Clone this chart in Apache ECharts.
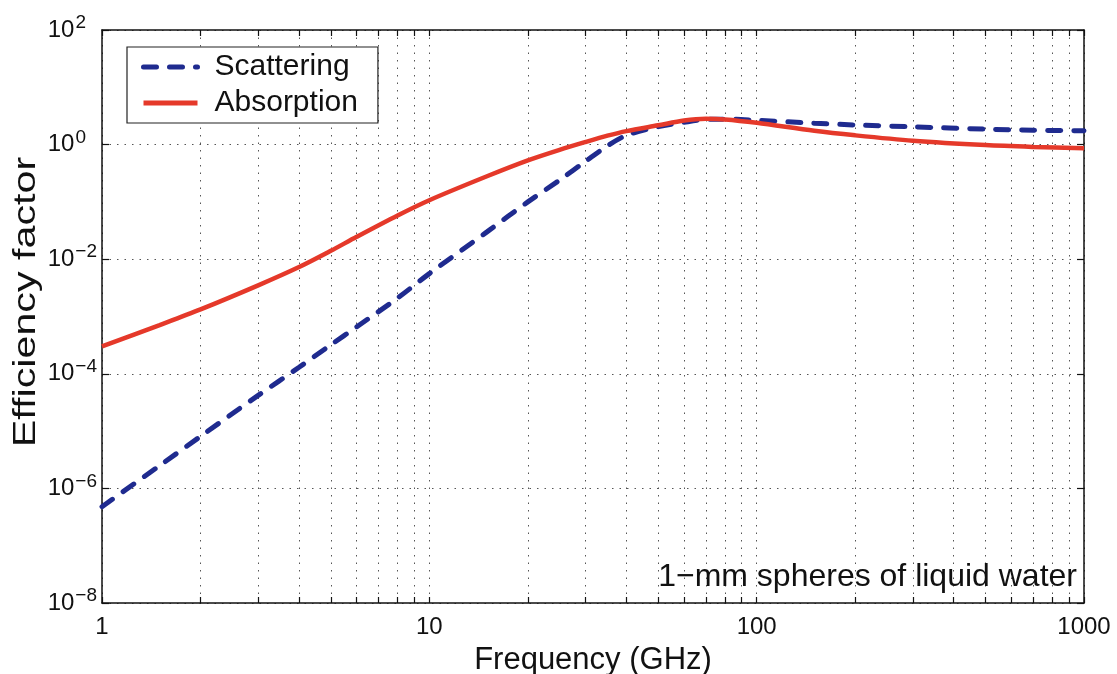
<!DOCTYPE html>
<html>
<head>
<meta charset="utf-8">
<script src="https://cdn.jsdelivr.net/npm/echarts@6/dist/echarts.min.js"></script>
<style>
html,body{margin:0;padding:0;background:#fff;}
#chart{width:1117px;height:674px;}
</style>
</head>
<body>
<div id="chart"></div>
<script>
// Frequency samples (GHz)
const frequencies = [1, 1.5, 2, 3, 4, 5, 6, 8, 10, 15, 20, 25, 30, 35, 40, 50, 60, 70, 80, 100, 150, 200, 300, 500, 700, 1000];
// Efficiency factors
const scattering = [4.8e-7, 2.5e-6, 8.1e-6, 4.2e-5, 1.3e-4, 3.2e-4, 6.6e-4, 2.1e-3, 5.6e-3, 3.0e-2, 0.100, 0.24, 0.51, 0.95, 1.45, 2.05, 2.45, 2.75, 2.78, 2.66, 2.36, 2.20, 2.04, 1.86, 1.78, 1.74];
const absorption = [3.0e-4, 7.1e-4, 1.33e-3, 3.5e-3, 7.3e-3, 1.40e-2, 2.46e-2, 5.8e-2, 0.107, 0.28, 0.53, 0.81, 1.11, 1.43, 1.72, 2.17, 2.63, 2.82, 2.75, 2.40, 1.74, 1.45, 1.17, 0.98, 0.91, 0.86];
// Axis ticks
const xMajorTicks = [1, 10, 100, 1000];
const xAllTicks = [1,2,3,4,5,6,7,8,9,10,20,30,40,50,60,70,80,90,100,200,300,400,500,600,700,800,900,1000];
const yTicks = [1e-8, 1e-6, 1e-4, 1e-2, 1, 1e2];
const seriesNames = ["Scattering", "Absorption"];
const xAxisTitle = "Frequency (GHz)";
const yAxisTitle = "Efficiency factor";
const annotation = "1\u2212mm spheres of liquid water";

const FONT = "Liberation Sans, Arial, Helvetica, sans-serif";
const chart = echarts.init(document.getElementById('chart'), null, {renderer: 'canvas'});

function expLabel(v) {
  const e = Math.round(Math.log10(v));
  return e < 0 ? '{b|10}{n|\u2212' + (-e) + '}' : '{b|10}{p|' + e + '}';
}

const gridDots = {color: '#555', width: 1, type: [1.5, 6]};

const option = {
  backgroundColor: '#fff',
  animation: false,
  grid: {left: 102, right: 33, top: 30, bottom: 71, outerBoundsMode: 'none'},
  legend: {
    data: seriesNames,
    orient: 'vertical',
    left: 127, top: 47,
    backgroundColor: '#fff',
    borderColor: '#222', borderWidth: 1.2, borderRadius: 0,
    padding: [5, 20, 5, 14],
    itemGap: 6,
    itemWidth: 54, itemHeight: 14,
    itemStyle: {opacity: 0},
    lineStyle: {width: 5},
    textStyle: {fontFamily: FONT, fontSize: 30, color: '#111', padding: [0, 0, 0, 12]}
  },
  xAxis: [{
    type: 'log', logBase: 10, min: 1, max: 1000,
    name: xAxisTitle, nameLocation: 'middle', nameGap: 42,
    nameTextStyle: {fontFamily: FONT, fontSize: 31, color: '#111'},
    axisLine: {show: true, onZero: false, lineStyle: {color: '#111', width: 1.5}},
    axisTick: {show: true, inside: true, length: 6, customValues: xAllTicks, lineStyle: {color: '#111', width: 1.2}},
    axisLabel: {show: true, customValues: xMajorTicks, margin: 12, fontFamily: FONT, fontSize: 24, color: '#111',
      formatter: function (v) { return String(v); }},
    splitLine: {show: true, lineStyle: gridDots},
    minorTick: {show: false}
  }, {
    type: 'log', logBase: 10, min: 1, max: 1000, position: 'top',
    axisLine: {show: true, onZero: false, lineStyle: {color: '#111', width: 1.5}},
    axisTick: {show: true, inside: true, length: 6, customValues: xAllTicks, lineStyle: {color: '#111', width: 1.2}},
    axisLabel: {show: false},
    splitLine: {show: false}
  }],
  yAxis: [{
    type: 'log', logBase: 10, min: 1e-8, max: 1e2,
    axisLine: {show: true, onZero: false, lineStyle: {color: '#111', width: 1.5}},
    axisTick: {show: true, inside: true, length: 7, customValues: yTicks, lineStyle: {color: '#111', width: 1.2}},
    axisLabel: {
      show: true, customValues: yTicks, margin: 5,
      formatter: expLabel,
      rich: {
        b: {fontFamily: FONT, fontSize: 24, color: '#111', lineHeight: 24, verticalAlign: 'middle'},
        n: {fontFamily: FONT, fontSize: 19, color: '#111', lineHeight: 19, verticalAlign: 'middle', padding: [0, 0, 14, 1]},
        p: {fontFamily: FONT, fontSize: 19, color: '#111', lineHeight: 19, verticalAlign: 'middle', padding: [0, 11, 14, 1]}
      }
    },
    splitLine: {show: true, lineStyle: gridDots}
  }, {
    type: 'log', logBase: 10, min: 1e-8, max: 1e2, position: 'right',
    axisLine: {show: true, onZero: false, lineStyle: {color: '#111', width: 1.5}},
    axisTick: {show: true, inside: true, length: 7, customValues: yTicks, lineStyle: {color: '#111', width: 1.2}},
    axisLabel: {show: false},
    splitLine: {show: false}
  }],
  graphic: [{
    type: 'text', right: 40, top: 561, z: 100,
    style: {text: annotation, font: '32px ' + FONT, fill: '#111'}
  }, {
    type: 'text', x: 26, y: 302, rotation: Math.PI / 2, scaleX: 1.33, z: 100,
    style: {text: yAxisTitle, font: '31px ' + FONT, fill: '#111', align: 'center', verticalAlign: 'middle'}
  }],
  series: [{
    name: seriesNames[0], type: 'line',
    data: frequencies.map((f, i) => [f, scattering[i]]),
    showSymbol: false, symbol: 'none', smooth: 0.3,
    lineStyle: {color: '#1f2b8f', width: 5, type: [13, 13], cap: 'round'},
    itemStyle: {color: '#1f2b8f'},
    z: 2
  }, {
    name: seriesNames[1], type: 'line',
    data: frequencies.map((f, i) => [f, absorption[i]]),
    showSymbol: false, symbol: 'none', smooth: 0.3,
    lineStyle: {color: '#e5392a', width: 4.5},
    itemStyle: {color: '#e5392a'},
    z: 3
  }]
};
chart.setOption(option);
</script>
</body>
</html>
